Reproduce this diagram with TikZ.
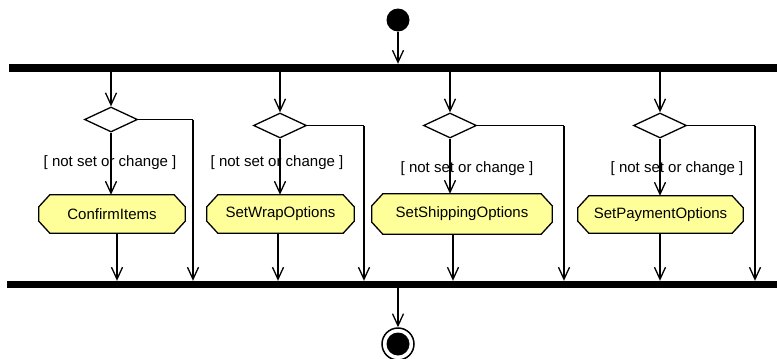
\documentclass[tikz,border=0pt]{standalone}
\usepackage{fontspec}
\setmainfont{Liberation Sans}
\usetikzlibrary{shapes.geometric,arrows.meta,backgrounds}
\definecolor{actyellow}{HTML}{FFFF99}
\tikzset{
  flow/.style={line width=1.3pt,-{Straight Barb[length=12pt,width=11pt,line width=1.3pt]}},
  plain/.style={line width=1.3pt},
  bar/.style={fill=black,draw=none,rectangle,inner sep=0pt},
  decision/.style={diamond,draw,line width=1.3pt,minimum width=53pt,minimum height=25pt,inner sep=0pt,fill=white},
  actnode/.style={rectangle,draw=none,inner sep=0pt,minimum height=38pt,font=\fontsize{15pt}{17pt}\selectfont},
  actshape/.style={fill=actyellow,draw=black,line width=1.3pt},
  guard/.style={font=\fontsize{15pt}{17pt}\selectfont,inner sep=0pt},
}
\begin{document}
\begin{tikzpicture}[x=1pt,y=-1pt]
\useasboundingbox (0,0) rectangle (777,359);
% initial and final
\node[circle,fill=black,minimum size=23pt,inner sep=0pt] (init) at (398,20) {};
\node[circle,draw=black,line width=1.5pt,fill=white,minimum size=32pt,inner sep=0pt] (final) at (398,344) {};
\node[circle,fill=black,minimum size=23pt,inner sep=0pt] (finalin) at (398,344) {};
% bars
\node[bar,minimum width=768pt,minimum height=8pt] (fork) at (393,68) {};
\node[bar,minimum width=770pt,minimum height=7pt] (join) at (392,284.5) {};
% guard labels
\node[guard] (g1) at (110,163) {[ not set or change ]};
\node[guard] (g2) at (277,163) {[ not set or change ]};
\node[guard] (g3) at (467,169) {[ not set or change ]};
\node[guard] (g4) at (677,169) {[ not set or change ]};
% decisions
\node[decision] (d1) at (111,119.5) {};
\node[decision] (d2) at (280,125.5) {};
\node[decision] (d3) at (450,125.5) {};
\node[decision] (d4) at (660,125.5) {};
% activities
\node[actnode,minimum width=146pt] (a1) at (112,214) {ConfirmItems};
\node[actnode,minimum width=147pt] (a2) at (280.5,214) {SetWrapOptions};
\node[actnode,minimum width=180pt,minimum height=40pt] (a3) at (462,214) {SetShippingOptions};
\node[actnode,minimum width=165pt,minimum height=37pt] (a4) at (660.5,214.5) {SetPaymentOptions};
\begin{pgfonlayer}{background}
\foreach \a in {a1,a2,a3,a4}{
  \draw[actshape] ([xshift=11pt]\a.north west) -- ([xshift=-11pt]\a.north east)
    -- ([yshift=-12pt]\a.north east) -- ([yshift=12pt]\a.south east)
    -- ([xshift=-11pt]\a.south east) -- ([xshift=11pt]\a.south west)
    -- ([yshift=12pt]\a.south west) -- ([yshift=-12pt]\a.north west) -- cycle;
}
\end{pgfonlayer}
% bypass corners
\coordinate (r1) at (193,119.5);
\coordinate (r2) at (364,125.5);
\coordinate (r3) at (564,125.5);
\coordinate (r4) at (755,125.5);
% connectors
\draw[flow] (init) -- (init |- fork.north);
\draw[flow] (join.south -| final.north) -- (final.north);
\foreach \i in {1,2,3,4}{
  \draw[flow] (fork.south -| d\i.north) -- (d\i.north);
  \draw[flow] (d\i.south) -- (d\i.south |- a\i.north);
  \draw[plain] (d\i.east) -- (r\i);
  \draw[flow] (r\i) -- (r\i |- join.north);
}
\draw[flow] ([xshift=5pt]a1.south) -- ([xshift=5pt]a1.south |- join.north);
\draw[flow] ([xshift=-2.5pt]a2.south) -- ([xshift=-2.5pt]a2.south |- join.north);
\draw[flow] ([xshift=-9pt]a3.south) -- ([xshift=-9pt]a3.south |- join.north);
\draw[flow] ([xshift=-0.5pt]a4.south) -- ([xshift=-0.5pt]a4.south |- join.north);
\end{tikzpicture}
\end{document}
